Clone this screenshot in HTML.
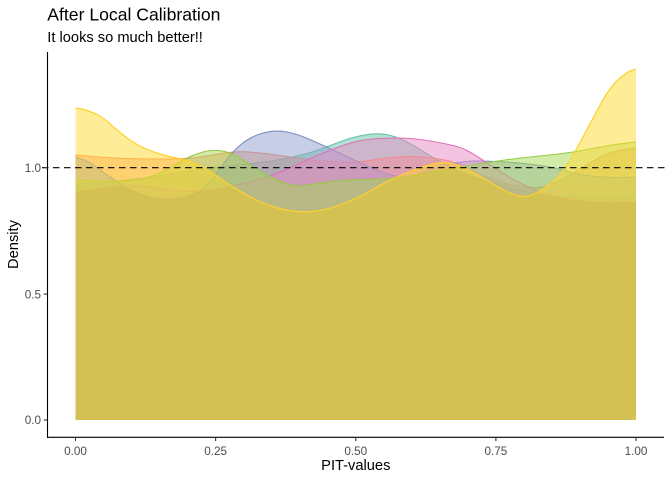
<!DOCTYPE html>
<html><head><meta charset="utf-8"><style>
html,body{margin:0;padding:0;background:#fff;}
svg{display:block;}
text{font-family:"Liberation Sans",Arial,sans-serif;}
</style></head><body>
<svg width="672" height="480" viewBox="0 0 672 480" xmlns="http://www.w3.org/2000/svg">
<defs>
<clipPath id="k1"><path d="M75.5,420 L75.5,184 L97.75,182.5 Q120,181 140,178.5 Q160,176 183.5,172 Q207,168 233.5,165.5 Q260,163 280,159.5 Q300,156 313.5,151.5 Q327,147 339.5,142 Q352,137 364.5,135 Q377,133 386,134.5 Q395,136 405,141 Q415,146 429,155 Q443,164 456.5,169.5 Q470,175 485,180 Q500,185 515,189 Q530,193 545,194.5 Q560,196 580,196.5 Q600,197 618,197 L636,197 L636,420 Z"/></clipPath>
<clipPath id="k2" clip-path="url(#k1)"><path d="M75.5,420 L75.5,155 L92.75,156.5 Q110,158 125,158.5 Q140,159 163.5,159 Q187,159 199.5,157 Q212,155 224.5,153 Q237,151 249.5,152 Q262,153 276,155 Q290,157 308.5,159.5 Q327,162 343.5,162 Q360,162 372.5,160 Q385,158 397.5,157 Q410,156 422.5,157 Q435,158 445,160 Q455,162 465,167 Q475,172 490,178 Q505,184 521,186.5 Q537,189 546,186 Q555,183 562.5,179 Q570,175 586.5,165 Q603,155 611.5,152.5 Q620,150 628,149 L636,148 L636,420 Z"/></clipPath>
<clipPath id="k3" clip-path="url(#k2)"><path d="M75.5,420 L75.5,157 L82.75,159.5 Q90,162 96.5,167 Q103,172 111.5,178 Q120,184 128.5,188.5 Q137,193 150,196.5 Q163,200 175,198.5 Q187,197 196,192.5 Q205,188 211.5,180 Q218,172 225,162 Q232,152 241,144.5 Q250,137 261.5,133.5 Q273,130 284,131.5 Q295,133 311,140 Q327,147 343.5,155 Q360,163 376.5,170 Q393,177 404,176.5 Q415,176 427.5,171 Q440,166 452.5,163.5 Q465,161 477.5,161 Q490,161 505,162 Q520,163 536.5,165 Q553,167 564,170.5 Q575,174 590,176 Q605,178 620.5,177.5 L636,177 L636,420 Z"/></clipPath>
<clipPath id="k4" clip-path="url(#k3)"><path d="M75.5,420 L75.5,192 L92.75,189.5 Q110,187 125,186 Q140,185 163.5,189 Q187,193 208.5,190 Q230,187 250,182 Q270,177 288.5,168.5 Q307,160 321,154 Q335,148 347.5,144 Q360,140 372.5,139 Q385,138 397.5,138 Q410,138 423.5,140 Q437,142 448.5,144.5 Q460,147 466,150 Q472,153 479.5,158 Q487,163 498.5,170.5 Q510,178 525,185.5 Q540,193 555,196.5 Q570,200 585,201.5 Q600,203 618,202.5 L636,202 L636,420 Z"/></clipPath>
<clipPath id="k5" clip-path="url(#k4)"><path d="M75.5,420 L75.5,180 L97.75,181 Q120,182 135,180 Q150,178 160,173 Q170,168 179,162.5 Q188,157 196.5,154 Q205,151 211.5,150.5 Q218,150 225,151.5 Q232,153 241,159 Q250,165 260,171 Q270,177 281.5,182 Q293,187 304,185.5 Q315,184 327.5,182 Q340,180 366.5,179.5 Q393,179 410,176 Q427,173 443.5,170 Q460,167 475,164.5 Q490,162 505,160 Q520,158 545,155.5 Q570,153 590,149 Q610,145 623,143.5 L636,142 L636,420 Z"/></clipPath>
<clipPath id="k6" clip-path="url(#k5)"><path d="M75.5,420 L75.5,108 L81.25,109 Q87,110 95,113.5 Q103,117 111.5,125 Q120,133 128.5,139 Q137,145 145,148.5 Q153,152 161.5,154.5 Q170,157 178.5,158.5 Q187,160 195,163.5 Q203,167 211.5,172.5 Q220,178 228.5,184 Q237,190 253.5,198.5 Q270,207 286.5,210 Q303,213 316.5,211 Q330,209 345,203 Q360,197 376.5,187.5 Q393,178 410,171.5 Q427,165 435,163.5 Q443,162 451.5,163.5 Q460,165 475,173.5 Q490,182 500,188 Q510,194 519,196 Q528,198 539,191.5 Q550,185 558.5,176 Q567,167 580,142.5 Q593,118 601.5,102.5 Q610,87 618.5,79.5 Q627,72 631.5,70.5 L636,69 L636,420 Z"/></clipPath>
</defs>
<rect width="672" height="480" fill="#fff"/>
<!-- teal -->
<path d="M75.5,420 L75.5,184 L97.75,182.5 Q120,181 140,178.5 Q160,176 183.5,172 Q207,168 233.5,165.5 Q260,163 280,159.5 Q300,156 313.5,151.5 Q327,147 339.5,142 Q352,137 364.5,135 Q377,133 386,134.5 Q395,136 405,141 Q415,146 429,155 Q443,164 456.5,169.5 Q470,175 485,180 Q500,185 515,189 Q530,193 545,194.5 Q560,196 580,196.5 Q600,197 618,197 L636,197 L636,420 Z" fill="#66C2A5" fill-opacity="0.5"/>
<path d="M75.5,184 L97.75,182.5 Q120,181 140,178.5 Q160,176 183.5,172 Q207,168 233.5,165.5 Q260,163 280,159.5 Q300,156 313.5,151.5 Q327,147 339.5,142 Q352,137 364.5,135 Q377,133 386,134.5 Q395,136 405,141 Q415,146 429,155 Q443,164 456.5,169.5 Q470,175 485,180 Q500,185 515,189 Q530,193 545,194.5 Q560,196 580,196.5 Q600,197 618,197 L636,197" fill="none" stroke="#66C2A5" stroke-width="1.1"/>
<!-- orange -->
<path d="M75.5,420 L75.5,155 L92.75,156.5 Q110,158 125,158.5 Q140,159 163.5,159 Q187,159 199.5,157 Q212,155 224.5,153 Q237,151 249.5,152 Q262,153 276,155 Q290,157 308.5,159.5 Q327,162 343.5,162 Q360,162 372.5,160 Q385,158 397.5,157 Q410,156 422.5,157 Q435,158 445,160 Q455,162 465,167 Q475,172 490,178 Q505,184 521,186.5 Q537,189 546,186 Q555,183 562.5,179 Q570,175 586.5,165 Q603,155 611.5,152.5 Q620,150 628,149 L636,148 L636,420 Z" fill="#FC8D62" fill-opacity="0.5"/>
<path d="M75.5,155 L92.75,156.5 Q110,158 125,158.5 Q140,159 163.5,159 Q187,159 199.5,157 Q212,155 224.5,153 Q237,151 249.5,152 Q262,153 276,155 Q290,157 308.5,159.5 Q327,162 343.5,162 Q360,162 372.5,160 Q385,158 397.5,157 Q410,156 422.5,157 Q435,158 445,160 Q455,162 465,167 Q475,172 490,178 Q505,184 521,186.5 Q537,189 546,186 Q555,183 562.5,179 Q570,175 586.5,165 Q603,155 611.5,152.5 Q620,150 628,149 L636,148" fill="none" stroke="#FC8D62" stroke-width="1.1"/>
<!-- blue -->
<path d="M75.5,420 L75.5,157 L82.75,159.5 Q90,162 96.5,167 Q103,172 111.5,178 Q120,184 128.5,188.5 Q137,193 150,196.5 Q163,200 175,198.5 Q187,197 196,192.5 Q205,188 211.5,180 Q218,172 225,162 Q232,152 241,144.5 Q250,137 261.5,133.5 Q273,130 284,131.5 Q295,133 311,140 Q327,147 343.5,155 Q360,163 376.5,170 Q393,177 404,176.5 Q415,176 427.5,171 Q440,166 452.5,163.5 Q465,161 477.5,161 Q490,161 505,162 Q520,163 536.5,165 Q553,167 564,170.5 Q575,174 590,176 Q605,178 620.5,177.5 L636,177 L636,420 Z" fill="#8DA0CB" fill-opacity="0.5"/>
<path d="M75.5,157 L82.75,159.5 Q90,162 96.5,167 Q103,172 111.5,178 Q120,184 128.5,188.5 Q137,193 150,196.5 Q163,200 175,198.5 Q187,197 196,192.5 Q205,188 211.5,180 Q218,172 225,162 Q232,152 241,144.5 Q250,137 261.5,133.5 Q273,130 284,131.5 Q295,133 311,140 Q327,147 343.5,155 Q360,163 376.5,170 Q393,177 404,176.5 Q415,176 427.5,171 Q440,166 452.5,163.5 Q465,161 477.5,161 Q490,161 505,162 Q520,163 536.5,165 Q553,167 564,170.5 Q575,174 590,176 Q605,178 620.5,177.5 L636,177" fill="none" stroke="#7C8FC4" stroke-width="1.1"/>
<!-- pink -->
<path d="M75.5,420 L75.5,192 L92.75,189.5 Q110,187 125,186 Q140,185 163.5,189 Q187,193 208.5,190 Q230,187 250,182 Q270,177 288.5,168.5 Q307,160 321,154 Q335,148 347.5,144 Q360,140 372.5,139 Q385,138 397.5,138 Q410,138 423.5,140 Q437,142 448.5,144.5 Q460,147 466,150 Q472,153 479.5,158 Q487,163 498.5,170.5 Q510,178 525,185.5 Q540,193 555,196.5 Q570,200 585,201.5 Q600,203 618,202.5 L636,202 L636,420 Z" fill="#E78AC3" fill-opacity="0.5"/>
<path d="M75.5,192 L92.75,189.5 Q110,187 125,186 Q140,185 163.5,189 Q187,193 208.5,190 Q230,187 250,182 Q270,177 288.5,168.5 Q307,160 321,154 Q335,148 347.5,144 Q360,140 372.5,139 Q385,138 397.5,138 Q410,138 423.5,140 Q437,142 448.5,144.5 Q460,147 466,150 Q472,153 479.5,158 Q487,163 498.5,170.5 Q510,178 525,185.5 Q540,193 555,196.5 Q570,200 585,201.5 Q600,203 618,202.5 L636,202" fill="none" stroke="#E070B8" stroke-width="1.1"/>
<!-- green -->
<path d="M75.5,420 L75.5,180 L97.75,181 Q120,182 135,180 Q150,178 160,173 Q170,168 179,162.5 Q188,157 196.5,154 Q205,151 211.5,150.5 Q218,150 225,151.5 Q232,153 241,159 Q250,165 260,171 Q270,177 281.5,182 Q293,187 304,185.5 Q315,184 327.5,182 Q340,180 366.5,179.5 Q393,179 410,176 Q427,173 443.5,170 Q460,167 475,164.5 Q490,162 505,160 Q520,158 545,155.5 Q570,153 590,149 Q610,145 623,143.5 L636,142 L636,420 Z" fill="#A6D854" fill-opacity="0.5"/>
<path d="M75.5,180 L97.75,181 Q120,182 135,180 Q150,178 160,173 Q170,168 179,162.5 Q188,157 196.5,154 Q205,151 211.5,150.5 Q218,150 225,151.5 Q232,153 241,159 Q250,165 260,171 Q270,177 281.5,182 Q293,187 304,185.5 Q315,184 327.5,182 Q340,180 366.5,179.5 Q393,179 410,176 Q427,173 443.5,170 Q460,167 475,164.5 Q490,162 505,160 Q520,158 545,155.5 Q570,153 590,149 Q610,145 623,143.5 L636,142" fill="none" stroke="#93CC3E" stroke-width="1.1"/>
<!-- yellow -->
<path d="M75.5,420 L75.5,108 L81.25,109 Q87,110 95,113.5 Q103,117 111.5,125 Q120,133 128.5,139 Q137,145 145,148.5 Q153,152 161.5,154.5 Q170,157 178.5,158.5 Q187,160 195,163.5 Q203,167 211.5,172.5 Q220,178 228.5,184 Q237,190 253.5,198.5 Q270,207 286.5,210 Q303,213 316.5,211 Q330,209 345,203 Q360,197 376.5,187.5 Q393,178 410,171.5 Q427,165 435,163.5 Q443,162 451.5,163.5 Q460,165 475,173.5 Q490,182 500,188 Q510,194 519,196 Q528,198 539,191.5 Q550,185 558.5,176 Q567,167 580,142.5 Q593,118 601.5,102.5 Q610,87 618.5,79.5 Q627,72 631.5,70.5 L636,69 L636,420 Z" fill="#FFD92F" fill-opacity="0.5"/>
<!-- subtle darkening of full-overlap region -->
<rect x="70" y="60" width="570" height="365" fill="#786400" fill-opacity="0.07" clip-path="url(#k6)"/>
<path d="M75.5,108 L81.25,109 Q87,110 95,113.5 Q103,117 111.5,125 Q120,133 128.5,139 Q137,145 145,148.5 Q153,152 161.5,154.5 Q170,157 178.5,158.5 Q187,160 195,163.5 Q203,167 211.5,172.5 Q220,178 228.5,184 Q237,190 253.5,198.5 Q270,207 286.5,210 Q303,213 316.5,211 Q330,209 345,203 Q360,197 376.5,187.5 Q393,178 410,171.5 Q427,165 435,163.5 Q443,162 451.5,163.5 Q460,165 475,173.5 Q490,182 500,188 Q510,194 519,196 Q528,198 539,191.5 Q550,185 558.5,176 Q567,167 580,142.5 Q593,118 601.5,102.5 Q610,87 618.5,79.5 Q627,72 631.5,70.5 L636,69" fill="none" stroke="#FFD12A" stroke-width="1.2"/>
<!-- hline -->
<line x1="42" y1="167.7" x2="665" y2="167.7" stroke="#000" stroke-width="1.2" stroke-dasharray="6.5 4.5"/>
<!-- axes -->
<line x1="47.5" y1="52" x2="47.5" y2="437.8" stroke="#000" stroke-width="1.1"/>
<line x1="47" y1="437.3" x2="664" y2="437.3" stroke="#000" stroke-width="1.1"/>
<g stroke="#333" stroke-width="1.1">
<line x1="43.8" y1="420" x2="47.5" y2="420"/>
<line x1="43.8" y1="294.1" x2="47.5" y2="294.1"/>
<line x1="43.8" y1="167.7" x2="47.5" y2="167.7"/>
<line x1="75.5" y1="437.3" x2="75.5" y2="441"/>
<line x1="215.6" y1="437.3" x2="215.6" y2="441"/>
<line x1="355.8" y1="437.3" x2="355.8" y2="441"/>
<line x1="495.9" y1="437.3" x2="495.9" y2="441"/>
<line x1="636" y1="437.3" x2="636" y2="441"/>
</g>
<g font-size="11.73" fill="#4D4D4D">
<text x="41" y="424.2" text-anchor="end">0.0</text>
<text x="41" y="298.3" text-anchor="end">0.5</text>
<text x="41" y="171.9" text-anchor="end">1.0</text>
<text x="75.5" y="455" text-anchor="middle">0.00</text>
<text x="215.6" y="455" text-anchor="middle">0.25</text>
<text x="355.8" y="455" text-anchor="middle">0.50</text>
<text x="495.9" y="455" text-anchor="middle">0.75</text>
<text x="636" y="455" text-anchor="middle">1.00</text>
</g>
<text x="355.8" y="470" text-anchor="middle" font-size="14.67" fill="#000">PIT-values</text>
<text transform="translate(18,244.5) rotate(-90)" text-anchor="middle" font-size="14.67" fill="#000">Density</text>
<text x="47.3" y="20.5" font-size="17.6" fill="#000">After Local Calibration</text>
<text x="47.3" y="42" font-size="14.67" fill="#000">It looks so much better!!</text>
</svg>
</body></html>
